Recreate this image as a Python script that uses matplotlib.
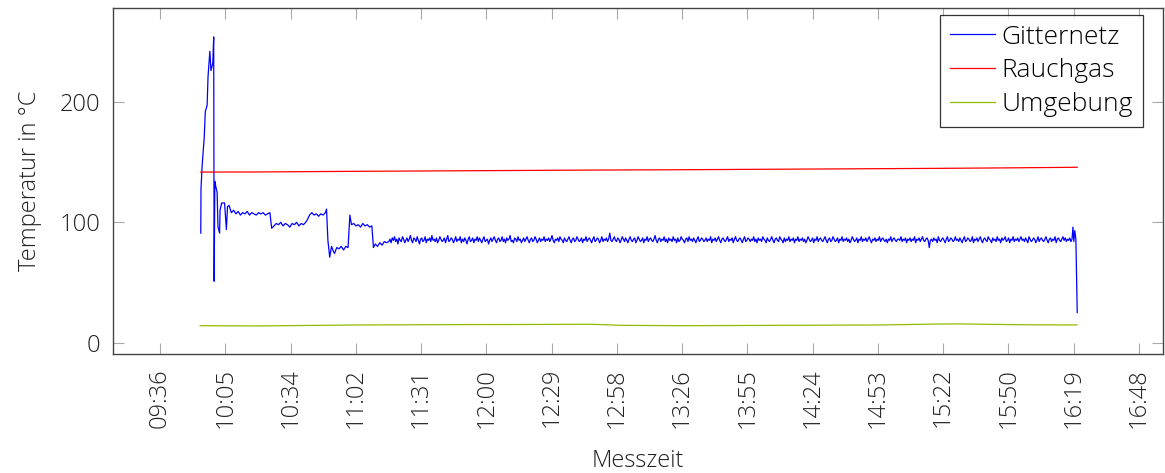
import numpy as np
import matplotlib.pyplot as plt
from matplotlib.ticker import FixedLocator, FuncFormatter

plt.rcParams['font.family'] = ['Open Sans', 'DejaVu Sans']
plt.rcParams['font.weight'] = 'light'
plt.rcParams['axes.labelweight'] = 'light'

# Messzeit in Minuten seit Mitternacht
git_t_start = [594.0, 594.1, 594.6, 595.5, 596.0, 596.8, 597.2, 598.0, 598.5, 599.3,
               599.7, 599.9, 600.2, 600.6, 601.2, 601.6, 602.3, 602.5, 603.2, 604.5,
               605.3, 605.8, 606.5, 607.5, 608.5, 609.5, 610.5, 611.5, 612.5, 613.5,
               614.5, 615.5, 616.5, 617.5, 618.5, 619.5, 620.5, 621.5, 622.5, 623.5,
               624.5, 625.3, 626.3, 627.3, 628.3, 629.3, 630.3, 631.3, 632.3, 633.3,
               634.3, 635.3, 636.3, 637.3, 638.3, 639.3, 640.3, 641.0, 642.0, 643.0,
               644.0, 645.0, 646.0, 647.0, 648.0, 649.0, 649.5, 650.1, 650.9, 651.7,
               652.5, 653.0, 654.0, 655.0, 656.0, 657.0, 658.0, 659.0, 659.8, 660.5,
               661.5, 662.5, 663.5, 664.5, 665.5, 666.5, 667.5, 668.5, 669.5, 670.2,
               671.0, 672.0, 673.0, 674.0, 675.0, 676.0]
git_v_start = [91, 128, 147, 170, 192, 197, 221, 242, 226, 232,
               254, 51, 134, 130, 125, 96, 91, 110, 116, 116,
               94, 113, 114, 108, 110, 107, 109, 106, 108, 107,
               109, 106, 108, 107, 106, 108, 107, 108, 106, 107,
               108, 95, 97, 99, 98, 100, 97, 99, 98, 96,
               99, 98, 100, 97, 99, 98, 100, 102, 106, 108,
               106, 107, 105, 107, 106, 108, 111, 85, 71, 80,
               76, 74, 79, 78, 80, 77, 80, 79, 106, 98,
               99, 97, 98, 96, 99, 97, 98, 96, 97, 79,
               82, 80, 83, 81, 84, 83]

# ab 11:17 alle 30 s
git_v_noise = """
84 86 83 87 85 88 84 86 82 87 85 84 88 86 83 85 87 84 86 89
85 83 87 86 84 88 85 82 86 87 84 85 88 83 86 85 87 84 89 85
86 84 87 83 85 88 86 84 85 87 83 86 89 84 85 87 86 83 85 88
84 86 85 88 83 86 84 87 85 82 86 88 84 85 87 83 86 85 88 84
87 85 83 86 88 84 85 86 82 85 87 84 86 88 85 83 86 87 84 85
88 84 86 83 87 85 86 89 84 85 83 87 86 84 88 85 86 83 85 87
84 86 88 85 83 86 87 84 85 88 86 83 85 87 84 86 85 88 84 86
85 87 84 86 89 85 83 86 85 87 84 88 86 85 83 87 85 84 86 88
85 83 86 87 84 85 88 86 84 85 87 83 86 85 88 84 86 87 85 83
86 88 84 85 87 86 83 85 88 84 86 85 87 84 86 91 85 84 86 88
85 84 87 86 83 85 88 86 84 87 85 83 86 88 85 84 86 87 83 85
88 86 84 85 87 83 86 85 88 84 86 87 85 84 86 89 85 83 86 87
84 86 85 88 84 86 83 87 85 86 84 88 85 86 83 87 84 85 88 86
85 83 86 87 84 88 85 86 84 87 85 83 86 88 84 85 87 86 84 85
87 84 86 85 88 83 86 85 87 84 86 88 85 83 86 87 85 84 86 88
84 86 85 87 83 86 88 85 84 86 87 85 83 86 88 84 85 87 86 84
86 85 88 84 86 83 87 85 86 84 88 86 85 83 87 85 84 86 88 85
83 86 87 85 84 88 86 85 83 87 84 86 85 88 84 86 85 87 83 86
85 88 84 86 85 87 84 86 83 85 88 86 84 85 87 83 86 85 88 84
86 87 85 84 86 88 85 83 86 87 84 85 88 86 84 85 87 83 86 85
88 84 86 85 87 84 86 83 85 88 86 84 85 87 83 86 85 88 84 86
85 87 84 86 88 85 83 86 85 87 84 86 85 88 84 86 87 85 84 86
83 86 85 88 84 86 87 85 84 86 86 85 88 84 86 85 87 83 86 85
87 84 86 85 88 83 86 85 87 84 86 88 85 84 86 87 85 79 85 86
84 87 85 86 83 88 85 84 86 87 85 83 86 88 84 85 87 86 84 85
88 85 86 84 87 85 83 86 88 84 85 87 86 84 85 88 83 86 85 87
84 86 88 85 83 86 87 85 84 88 86 85 83 87 85 86 84 88 85 86
83 87 85 86 88 84 85 87 83 86 85 88 84 86 85 87 84 86 88 85
86 84 87 85 83 88 86 84 85 87 86 83 85 88 84 86 87 85 84 86
88 85 83 86 87 84 86 85 88 83 86 87 85 84 86 88 85 87 84 86
85 87 84 86
"""
git_t_end = [978.9, 979.3, 979.7, 980.2, 980.8]
git_v_end = [96, 84, 93, 86, 25]

rauch_t = [594, 620, 650, 680, 710, 740, 770, 800, 830, 860, 890, 920, 950, 980.8]
rauch_v = [141.7, 141.8, 142.2, 142.5, 142.8, 143.1, 143.4, 143.6, 143.9, 144.2,
           144.5, 144.8, 145.2, 145.7]

umg_t = [593.7, 618.8, 663, 707, 736, 765.8, 780, 805.5, 849.6, 893.7, 920, 929, 955.5, 980.7]
umg_v = [14.1, 13.9, 14.7, 15.0, 15.1, 15.3, 14.4, 14.1, 14.4, 14.7, 15.5, 15.6, 14.9, 14.7]

noise = [float(v) for v in git_v_noise.split()]
git_t = np.concatenate([git_t_start, 677 + 0.5 * np.arange(len(noise)), git_t_end]) / 1440
git_v = np.concatenate([git_v_start, noise, git_v_end])

fig = plt.figure(figsize=(11.65, 4.73), dpi=100)
ax = fig.add_axes([0.097, 0.2516, 0.9013, 0.7315])

ax.plot(git_t, git_v, color='#0000ff', lw=0.9, label='Gitternetz')
ax.plot(np.array(rauch_t) / 1440, rauch_v, color='#ff0000', lw=0.9, label='Rauchgas')
ax.plot(np.array(umg_t) / 1440, umg_v, color='#92bb00', lw=0.9, label='Umgebung')

ax.set_xlim(0.3856, 0.7074)
ax.set_ylim(-9.4, 278)

xt = np.arange(0.40, 0.7001, 0.02)
ax.xaxis.set_major_locator(FixedLocator(xt))
def hhmm(x, pos):
    m = int(round(x * 1440))
    return f'{m // 60:02d}:{m % 60:02d}'
ax.xaxis.set_major_formatter(FuncFormatter(hhmm))
ax.set_yticks([0, 100, 200])

ax.tick_params(direction='in', length=8, width=0.8, color='#aaaaaa',
               top=True, right=True, labelsize=17, labelcolor='#222222', pad=9)
ax.tick_params(axis='x', labelrotation=90, pad=10)
for s in ax.spines.values():
    s.set_color('#444444')
    s.set_linewidth(1.0)

ax.set_xlabel('Messzeit', fontsize=17, color='#222222', labelpad=15)
ax.set_ylabel('Temperatur in °C', fontsize=17, color='#222222', labelpad=13)

leg = ax.legend(loc='upper right', fontsize=19, frameon=True, fancybox=False,
                edgecolor='black', handlelength=1.7, borderpad=0.37,
                labelspacing=0.33, handletextpad=0.27, borderaxespad=0,
                bbox_to_anchor=(0.981, 0.980))
leg.get_frame().set_linewidth(0.9)

fig.savefig('out.png', dpi=100)
